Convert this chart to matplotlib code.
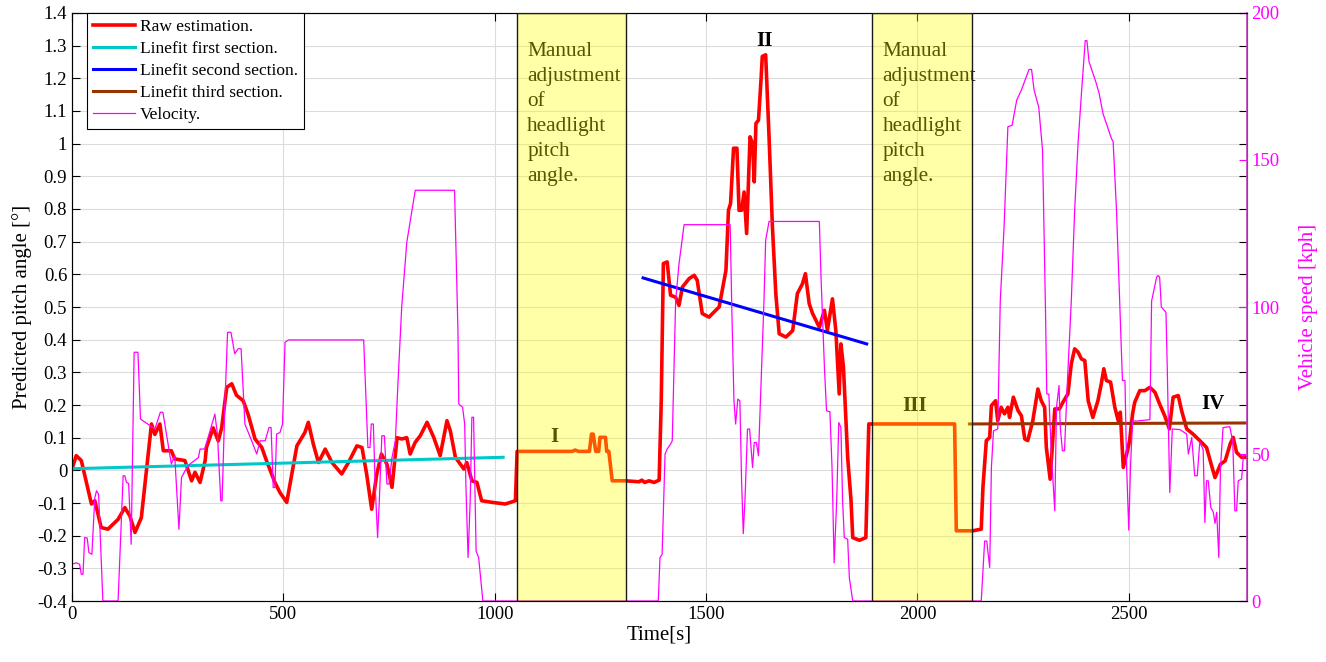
import matplotlib
matplotlib.use('Agg')
from matplotlib import pyplot as plt

plt.rcParams['font.family'] = ['Liberation Serif', 'DejaVu Serif']
plt.rcParams['axes.unicode_minus'] = False

# raw pitch estimation [deg] over time [s]
raw_time = [0, 10, 22, 34, 46, 54, 69, 85, 109, 125,
            137, 149, 164, 176, 188, 196, 208, 216, 235, 243,
            267, 283, 291, 303, 315, 318, 334, 346, 354, 366,
            378, 389, 405, 417, 433, 449, 460, 480, 492, 508,
            520, 532, 551, 559, 571, 583, 599, 615, 638, 654,
            674, 686, 697, 709, 721, 732, 745, 757, 769, 780,
            792, 800, 812, 824, 840, 856, 871, 887, 895, 907,
            927, 934, 946, 958, 969, 994, 1025, 1049,
            1053, 1183, 1190, 1199, 1224, 1229, 1233, 1239, 1246, 1249,
            1262, 1265, 1270, 1278, 1310, 1341, 1348, 1355, 1365, 1377,
            1389, 1394, 1399, 1408, 1416, 1428, 1436, 1444, 1460, 1472,
            1479, 1491, 1507, 1523, 1531, 1547, 1553, 1558, 1565, 1573,
            1578, 1584, 1590, 1596, 1604, 1610, 1614, 1618, 1624, 1630,
            1633, 1641, 1649, 1657, 1665, 1673, 1689, 1705, 1716, 1728,
            1735, 1744, 1752, 1768, 1780, 1787, 1799, 1807, 1815, 1819,
            1825, 1835, 1843, 1847, 1863, 1878, 1885, 2088, 2092, 2131,
            2151, 2155, 2163, 2171, 2175, 2185, 2190, 2198, 2206, 2214,
            2218, 2227, 2238, 2246, 2254, 2261, 2273, 2285, 2293, 2301,
            2305, 2314, 2325, 2336, 2344, 2356, 2364, 2372, 2380, 2388,
            2396, 2404, 2415, 2427, 2435, 2441, 2447, 2457, 2467, 2475,
            2480, 2487, 2495, 2502, 2509, 2514, 2526, 2538, 2550, 2562,
            2573, 2585, 2596, 2605, 2617, 2625, 2637, 2652, 2668, 2684,
            2696, 2704, 2717, 2728, 2740, 2747, 2755, 2767, 2779]
raw_pitch = [0.004, 0.045, 0.03, -0.037, -0.103, -0.093, -0.175, -0.18, -0.15, -0.114,
             -0.14, -0.19, -0.145, 0.0, 0.142, 0.11, 0.142, 0.06, 0.06, 0.035,
             0.03, -0.032, -0.006, -0.037, 0.03, 0.07, 0.13, 0.09, 0.13, 0.254,
             0.265, 0.23, 0.213, 0.17, 0.096, 0.07, 0.03, -0.037, -0.068, -0.098,
             -0.011, 0.075, 0.116, 0.147, 0.08, 0.024, 0.065, 0.024, -0.011, 0.024,
             0.075, 0.07, -0.011, -0.119, -0.011, 0.05, 0.019, -0.052, 0.1, 0.096,
             0.1, 0.05, 0.086, 0.106, 0.147, 0.1, 0.045, 0.152, 0.121, 0.04,
             0.004, 0.024, -0.032, -0.037, -0.093, -0.098, -0.103, -0.093,
             0.058, 0.058, 0.062, 0.058, 0.058, 0.111, 0.111, 0.058, 0.058, 0.101,
             0.101, 0.058, 0.058, -0.032, -0.032, -0.035, -0.03, -0.037, -0.032, -0.037,
             -0.03, 0.213, 0.633, 0.638, 0.536, 0.53, 0.505, 0.561, 0.587, 0.597,
             0.582, 0.48, 0.469, 0.49, 0.5, 0.612, 0.796, 0.817, 0.986, 0.986,
             0.796, 0.796, 0.852, 0.725, 1.021, 1.0, 0.883, 1.062, 1.072, 1.195,
             1.267, 1.272, 1.021, 0.745, 0.541, 0.418, 0.408, 0.428, 0.541, 0.571,
             0.602, 0.51, 0.48, 0.438, 0.49, 0.428, 0.525, 0.428, 0.234, 0.387,
             0.316, 0.04, -0.093, -0.206, -0.214, -0.206, 0.142, 0.142, -0.185, -0.185,
             -0.18, -0.052, 0.091, 0.101, 0.198, 0.213, 0.152, 0.193, 0.173, 0.193,
             0.162, 0.224, 0.183, 0.167, 0.096, 0.091, 0.152, 0.249, 0.213, 0.193,
             0.07, -0.027, 0.188, 0.188, 0.208, 0.234, 0.326, 0.372, 0.362, 0.341,
             0.336, 0.213, 0.162, 0.213, 0.265, 0.311, 0.275, 0.27, 0.193, 0.152,
             0.178, 0.009, 0.05, 0.091, 0.173, 0.208, 0.244, 0.244, 0.254, 0.239,
             0.203, 0.167, 0.127, 0.224, 0.229, 0.183, 0.127, 0.111, 0.091, 0.07,
             0.014, -0.022, 0.019, 0.029, 0.081, 0.101, 0.055, 0.04, 0.04]

# vehicle speed [kph]
vel_time = [0, 10, 18, 22, 26, 30, 36, 40, 47, 54,
            58, 63, 73, 109, 121, 125, 129, 134, 140, 147,
            156, 162, 196, 209, 215, 235, 243, 253, 259, 267,
            279, 299, 303, 314, 338, 344, 352, 355, 362, 368,
            376, 385, 393, 400, 409, 425, 437, 445, 457, 466,
            471, 476, 480, 484, 492, 498, 504, 512, 690, 694,
            700, 705, 708, 713, 717, 723, 727, 733, 739, 745,
            750, 757, 765, 771, 780, 792, 812, 905, 913, 915,
            924, 929, 932, 937, 942, 946, 950, 956, 962, 972,
            1387, 1391, 1396, 1403, 1408, 1416, 1420, 1428, 1436, 1448,
            1557, 1561, 1566, 1570, 1575, 1580, 1584, 1588, 1592, 1598,
            1603, 1610, 1614, 1619, 1624, 1630, 1637, 1641, 1649, 1768,
            1772, 1780, 1785, 1793, 1798, 1803, 1809, 1814, 1819, 1823,
            1827, 1835, 1839, 1847,
            2151, 2159, 2164, 2171, 2175, 2180, 2190, 2196, 2205, 2214,
            2224, 2235, 2246, 2264, 2270, 2276, 2287, 2296, 2303, 2306,
            2311, 2316, 2325, 2329, 2335, 2338, 2343, 2348, 2354, 2364,
            2372, 2380, 2388, 2397, 2401, 2406, 2422, 2430, 2439, 2447,
            2459, 2463, 2471, 2479, 2485, 2491, 2495, 2500, 2504, 2509,
            2518, 2550, 2554, 2566, 2569, 2573, 2577, 2588, 2591, 2597,
            2603, 2621, 2637, 2641, 2649, 2656, 2662, 2668, 2676, 2680,
            2684, 2688, 2694, 2700, 2704, 2708, 2713, 2717, 2723, 2739,
            2746, 2751, 2755, 2759, 2767, 2771, 2779]
vel_kph = [12.5, 13, 12.5, 9.1, 9.1, 21.6, 21.4, 16.5, 15.9, 35.2,
           37.5, 36.3, 0, 0, 42.6, 42.6, 40.3, 40, 19.3, 84.6,
           84.6, 61.9, 58.5, 64.2, 64.2, 46.6, 49.4, 24.4, 42, 44.2,
           46.6, 48.8, 51.7, 51.7, 63.6, 56.8, 34.1, 34.1, 68.1, 91.4,
           91.4, 84.1, 85.8, 85.8, 60.2, 54.5, 50, 54.5, 54.5, 59,
           59, 38.6, 38.6, 56.8, 57.3, 60.2, 88, 88.8, 88.8, 73.8,
           52.2, 52.2, 60.2, 60.2, 39.8, 21.6, 34.1, 56.2, 56.2, 39.8,
           39.8, 48.8, 54.5, 73.8, 100, 122, 139.7, 139.7, 92, 67,
           65.9, 60.2, 38.6, 14.8, 34.1, 62.5, 62.5, 17, 14.8, 0,
           0, 14.8, 15.8, 50, 51.7, 53.4, 54.5, 102, 114.7, 128,
           128, 98.8, 68.1, 60.2, 68.7, 68.1, 40.9, 22.9, 34.1, 58.5,
           58.5, 45.4, 53.9, 53.9, 49.4, 73.8, 102, 122.7, 129.1, 129.1,
           110, 79.5, 64.7, 64.4, 45.4, 13, 34.1, 60.7, 59, 34.1,
           21.6, 21, 7.9, 0,
           0, 20.4, 20.4, 11.4, 45.4, 57.9, 58.5, 102, 127.2, 161.3,
           161.8, 170.4, 173.8, 180.8, 180.8, 173.8, 168, 153.3, 98.8, 70.4,
           70.4, 52.2, 30.7, 65.9, 73.3, 59, 51.1, 51.1, 72.1, 102,
           132.9, 155.6, 172.6, 190.6, 190.6, 183.4, 176.6, 172.6, 165.8, 162.4,
           157.3, 156.2, 132.9, 100, 75, 75, 45.4, 24.1, 45.4, 61.3,
           61.2, 61.7, 102, 110.2, 110.7, 110.2, 100, 98.2, 79.5, 36.9,
           58.5, 58.3, 56.8, 50, 55.6, 42.6, 42.6, 54.1, 51.4, 26.7,
           40.9, 40.9, 31.8, 30.2, 26.4, 30.2, 14.8, 45.4, 59, 59.3,
           54.1, 30.7, 30.7, 40.9, 41.5, 49.4, 49.7]

# line fits for the three driving sections
fit1_time = [0, 1020]
fit1_pitch = [0.005, 0.04]
fit2_time = [1351, 1880]
fit2_pitch = [0.589, 0.387]
fit3_time = [2123, 2777]
fit3_pitch = [0.142, 0.145]

# manual headlight adjustment windows [s]
adjust_start = [1053, 1893]
adjust_end = [1310, 2129]
adjust_text = 'Manual\nadjustment\nof\nheadlight\npitch\nangle.'

section_labels = ['I', 'II', 'III', 'IV']
section_time = [1142, 1638, 1993, 2699]
section_pitch = [0.07, 1.285, 0.167, 0.172]

ytick_vals = [-0.4, -0.3, -0.2, -0.1, 0, 0.1, 0.2, 0.3, 0.4, 0.5, 0.6, 0.7, 0.8, 0.9,
              1.0, 1.1, 1.2, 1.3, 1.4]
ytick_labels = ['-0.4', '-0.3', '-0.2', '-0.1', '0', '0.1', '0.2', '0.3', '0.4', '0.5',
                '0.6', '0.7', '0.8', '0.9', '1', '1.1', '1.2', '1.3', '1.4']

magenta = '#ff00ff'

fig = plt.figure(figsize=(13.26, 6.62), dpi=100)
ax = fig.add_axes([0.0543, 0.0921, 0.8859, 0.8883])
ax2 = ax.twinx()

h_raw, = ax.plot(raw_time, raw_pitch, color='#ff0000', lw=2.6, label='Raw estimation.', zorder=3)
h_f1, = ax.plot(fit1_time, fit1_pitch, color='#00c8c8', lw=2.2, label='Linefit first section.', zorder=4)
h_f2, = ax.plot(fit2_time, fit2_pitch, color='#0000ff', lw=2.2, label='Linefit second section.', zorder=4)
h_f3, = ax.plot(fit3_time, fit3_pitch, color='#993300', lw=2.2, label='Linefit third section.', zorder=4)

for x0 in adjust_start:
    ax.text(x0 + 24, 1.31, adjust_text, fontsize=15.3, va='top', ha='left',
            linespacing=1.42, color='black')

for lab, tx, ty in zip(section_labels, section_time, section_pitch):
    ax.text(tx, ty, lab, fontsize=15, fontweight='bold', ha='center', va='bottom', color='black')

ax.set_xlim(0, 2779)
ax.set_ylim(-0.4, 1.4)
ax.set_xticks([0, 500, 1000, 1500, 2000, 2500])
ax.set_yticks(ytick_vals)
ax.set_yticklabels(ytick_labels)
ax.grid(True, color='#dcdcdc', lw=0.8)
ax.set_axisbelow(True)
ax.tick_params(direction='in', top=True, right=True, length=6, labelsize=13.5, width=0.8)
ax.set_xlabel('Time[s]', fontsize=15, labelpad=2)
ax.set_ylabel('Predicted pitch angle [°]', fontsize=15, labelpad=4)
for s in ['left', 'bottom', 'top']:
    ax.spines[s].set_color('#262626')

h_vel, = ax2.plot(vel_time, vel_kph, color=magenta, lw=0.9, label='Velocity.', zorder=2)
ax2.set_ylim(0, 200)
ax2.set_yticks([0, 50, 100, 150, 200])
ax2.tick_params(direction='in', length=6, colors=magenta, labelsize=13.5, width=0.8)
ax2.spines['right'].set_color('#c040c0')
ax2.spines['right'].set_linewidth(1.2)
ax2.set_ylabel('Vehicle speed [kph]', color=magenta, fontsize=15, labelpad=14)

# yellow patches drawn on top so that what lies underneath turns olive/orange
for x0, x1 in zip(adjust_start, adjust_end):
    ax2.axvspan(x0, x1, facecolor=(1, 1, 0, 0.34), edgecolor=(0.1, 0.1, 0.1, 1), lw=1.0, zorder=10)

leg = ax2.legend(handles=[h_raw, h_f1, h_f2, h_f3, h_vel], loc='upper left',
                 bbox_to_anchor=(0.013, 1.0), fontsize=12.5, fancybox=False,
                 edgecolor='black', framealpha=1, borderpad=0.35, labelspacing=0.33,
                 handlelength=2.4, handletextpad=0.3, borderaxespad=0.0)
leg.get_frame().set_linewidth(0.8)
leg.set_zorder(20)

fig.savefig('out.png', dpi=100)
